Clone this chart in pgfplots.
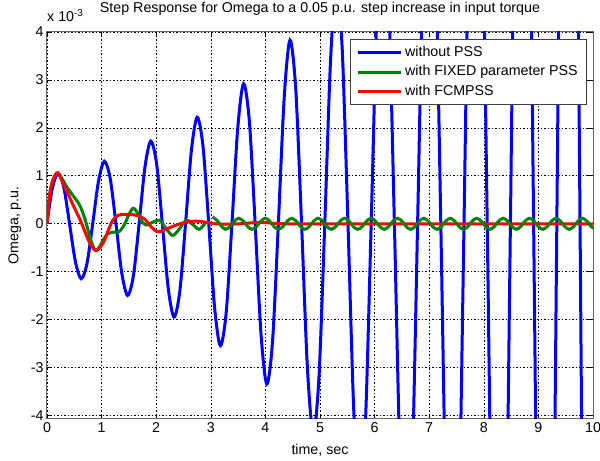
\documentclass[border=0pt]{standalone}
\usepackage{fontspec}
\setmainfont{Liberation Sans}
\usepackage{pgfplots}
\usepackage{pgfplotstable}
\pgfplotsset{compat=1.18}
\definecolor{mgreen}{rgb}{0,0.5,0}
\definecolor{axgray}{rgb}{0.4,0.4,0.4}

\pgfplotstableread{
t y
3.03 0.14
3.111 0.07
3.191 -0.05
3.272 -0.12
3.353 -0.063
3.433 0.053
3.514 0.11
3.595 0.053
3.675 -0.063
3.756 -0.12
3.837 -0.063
3.917 0.053
3.998 0.11
4.079 0.053
4.159 -0.063
4.240 -0.12
4.321 -0.063
4.401 0.053
4.482 0.11
4.563 0.053
4.643 -0.063
4.724 -0.12
4.805 -0.063
4.885 0.053
4.966 0.11
5.047 0.053
5.127 -0.063
5.208 -0.12
5.289 -0.063
5.369 0.053
5.450 0.11
5.531 0.053
5.611 -0.063
5.692 -0.12
5.773 -0.063
5.853 0.053
5.934 0.11
6.015 0.053
6.095 -0.063
6.176 -0.12
6.257 -0.063
6.337 0.053
6.418 0.11
6.499 0.053
6.579 -0.063
6.660 -0.12
6.741 -0.063
6.821 0.053
6.902 0.11
6.983 0.053
7.063 -0.063
7.144 -0.12
7.225 -0.063
7.305 0.053
7.386 0.11
7.467 0.053
7.547 -0.063
7.628 -0.12
7.709 -0.063
7.789 0.053
7.870 0.11
7.951 0.053
8.031 -0.063
8.112 -0.12
8.193 -0.063
8.273 0.053
8.354 0.11
8.435 0.053
8.515 -0.063
8.596 -0.12
8.677 -0.063
8.757 0.053
8.838 0.11
8.919 0.053
8.999 -0.063
9.080 -0.12
9.161 -0.063
9.241 0.053
9.322 0.11
9.403 0.053
9.483 -0.063
9.564 -0.12
9.645 -0.063
9.725 0.053
9.806 0.11
9.887 0.053
9.967 -0.063
10.048 -0.12
}\greenlate

\begin{document}
\begin{tikzpicture}[font=\fontsize{14.3}{17}\selectfont]
\begin{axis}[
  at={(0,0)}, anchor=south west,
  width=546bp, height=387bp, scale only axis,
  xmin=0, xmax=10, ymin=-4.08, ymax=4,
  xtick={0,1,2,3,4,5,6,7,8,9,10},
  ytick={-4,-3,-2,-1,0,1,2,3,4},
  xticklabels={0,1,2,3,4,5,6,7,8,9,10},
  yticklabels={-4,-3,-2,-1,0,1,2,3,4},
  tick align=inside, major tick length=5bp,
  tick style={black, line width=0.5bp},
  axis line style={axgray, line width=1bp},
  grid=major,
  major grid style={black, line width=0.5bp, dash pattern=on 1.5bp off 2bp},
  title={Step Response for Omega to a 0.05 p.u. step increase in input torque},
  title style={at={(0.5,1)}, anchor=base, yshift=14bp},
  xlabel={time, sec},
  ylabel={Omega, p.u.},
  xlabel style={at={(rel axis cs:0.5,-0.093)}, anchor=base},
  ylabel style={at={(rel axis cs:-0.0526,0.5)}, anchor=base},
  legend style={at={(0.989,0.982)}, anchor=north east, draw=black!75, line width=0.6bp, fill=white,
    inner xsep=6bp, inner ysep=3.5bp,
    nodes={inner sep=3bp, text height=10.5bp, text depth=3bp}, row sep=0bp},
  legend cell align=left,
  legend image code/.code={\draw[#1] (0bp,0bp) -- (43bp,0bp);},
]
\addplot[blue, line width=3bp, smooth] coordinates {
(0,0)
(0.09375,0.718) (0.2,1.05) (0.30625,0.768) (0.4125,0)
(0.51875,-0.787) (0.625,-1.15) (0.73125,-0.841) (0.8375,0)
(0.94375,0.889) (1.05,1.30) (1.15625,0.950) (1.2625,0)
(1.36875,-1.026) (1.475,-1.50) (1.58125,-1.097) (1.6875,0)
(1.79375,1.176) (1.90,1.72) (2.00625,1.257) (2.1125,0)
(2.21875,-1.334) (2.325,-1.95) (2.43125,-1.425) (2.5375,0)
(2.64375,1.518) (2.75,2.22) (2.85625,1.623) (2.9625,0)
(3.06875,-1.744) (3.175,-2.55) (3.28125,-1.864) (3.3875,0)
(3.49375,1.997) (3.60,2.92) (3.70625,2.135) (3.8125,0)
(3.91875,-2.291) (4.025,-3.35) (4.13125,-2.449) (4.2375,0)
(4.34375,2.620) (4.45,3.83) (4.55625,2.800) (4.6625,0)
(4.76875,-2.996) (4.875,-4.38) (4.98125,-3.202) (5.0875,0)
(5.19375,3.420) (5.30,5.00) (5.40625,3.655) (5.5125,0)
(5.61875,-3.912) (5.725,-5.72) (5.83125,-4.181) (5.9375,0)
(6.04375,4.473) (6.15,6.54) (6.25625,4.781) (6.3625,0)
(6.46875,-5.109) (6.575,-7.47) (6.68125,-5.461) (6.7875,0)
(6.89375,5.841) (7.00,8.54) (7.10625,6.243) (7.2125,0)
(7.31875,-6.676) (7.425,-9.76) (7.53125,-7.135) (7.6375,0)
(7.74375,7.633) (7.85,11.16) (7.95625,8.158) (8.0625,0)
(8.16875,-8.721) (8.275,-12.75) (8.38125,-9.320) (8.4875,0)
(8.59375,9.973) (8.70,14.58) (8.80625,10.658) (8.9125,0)
(9.01875,-11.395) (9.125,-16.66) (9.23125,-12.178) (9.3375,0)
(9.44375,13.03) (9.55,19.05) (9.65625,13.93) (9.7625,0)
(9.86875,-14.89) (9.975,-21.77) (10.08125,-15.91) (10.1875,0)
};
\addlegendentry{without PSS}
\addplot[mgreen, line width=3bp, smooth] coordinates {
(0,0) (0.05,0.6) (0.1,0.88) (0.15,1.01) (0.2,1.06) (0.28,0.93) (0.36,0.77)
(0.48,0.58) (0.6,0.38) (0.7,0.08) (0.79,-0.3) (0.88,-0.56) (0.96,-0.49)
(1.04,-0.32) (1.12,-0.21) (1.22,-0.18) (1.32,-0.17) (1.42,-0.02) (1.5,0.19)
(1.58,0.32) (1.66,0.22) (1.74,0.04) (1.82,-0.03) (1.94,0.03) (2.06,0.07)
(2.18,-0.1) (2.30,-0.25) (2.42,-0.12) (2.55,0.07) (2.67,-0.02) (2.79,-0.12)
(2.91,0.03)
};
\addlegendentry{with FIXED parameter PSS}
\addplot[red, line width=3bp, smooth] coordinates {
(0,0) (0.05,0.62) (0.1,0.88) (0.15,1.01) (0.2,1.06) (0.28,0.88) (0.36,0.68)
(0.48,0.38) (0.61,0.07) (0.73,-0.27) (0.82,-0.48) (0.9,-0.56) (0.97,-0.5)
(1.04,-0.38) (1.12,-0.15) (1.2,0.06) (1.3,0.17) (1.4,0.19) (1.5,0.19)
(1.6,0.18) (1.7,0.15) (1.8,0.08) (1.9,-0.06) (2.0,-0.16) (2.06,-0.17)
(2.15,-0.13) (2.3,-0.06) (2.45,0.0) (2.6,0.04) (2.75,0.05) (2.9,0.03)
(3.05,0.0) (3.2,-0.01) (3.4,-0.01) (3.6,0.0) (3.8,0.02) (4.0,0.02)
(4.2,0.0) (4.5,-0.005) (5,-0.005) (6,-0.005) (7,-0.005) (8,-0.005)
(9,-0.005) (10,-0.005)
};
\addlegendentry{with FCMPSS}
\addplot[mgreen, line width=3bp, smooth, forget plot] table[x=t, y=y] {\greenlate};
\end{axis}
\node[anchor=base west, inner sep=0pt] at (0bp,397bp) {x 10\textsuperscript{-3}};
\pgfresetboundingbox
\path (-47bp,-42bp) rectangle (553bp,419bp);
\end{tikzpicture}
\end{document}
